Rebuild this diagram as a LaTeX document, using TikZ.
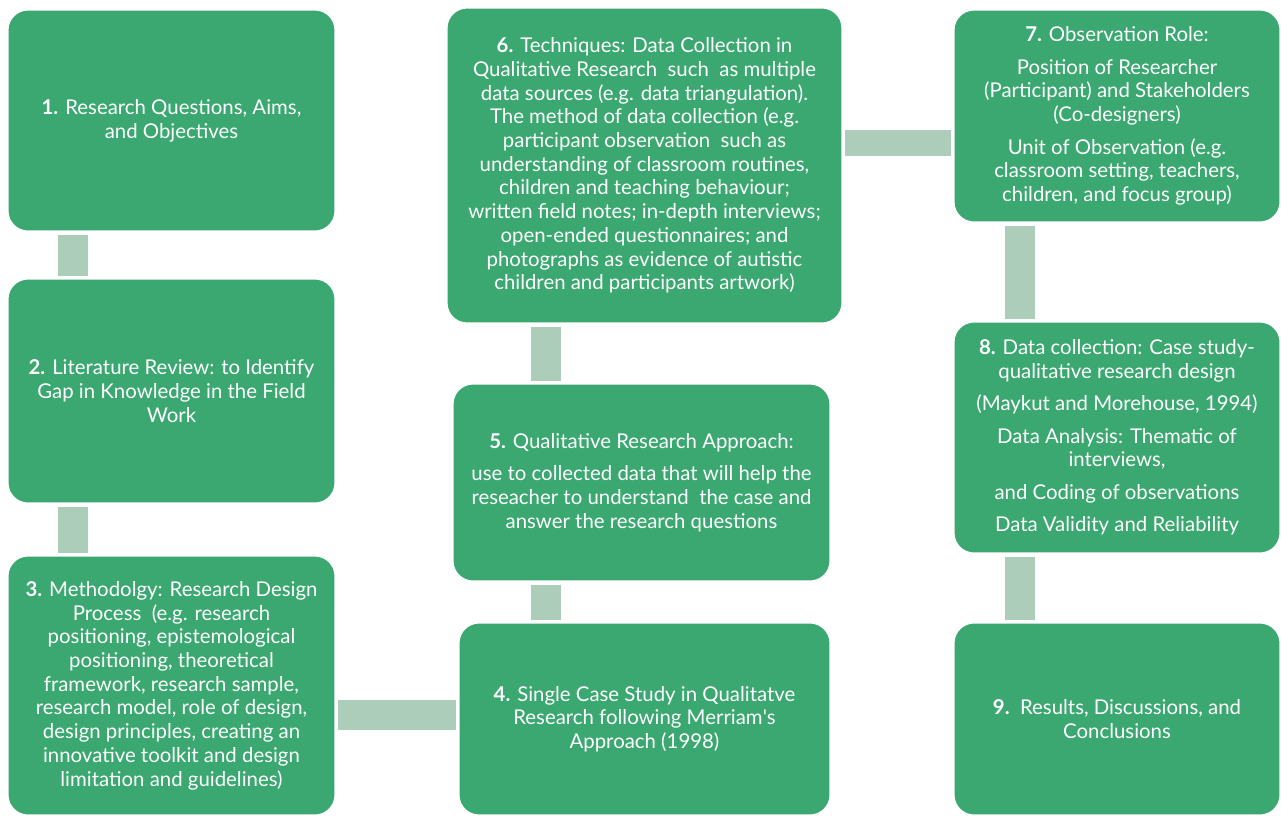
\documentclass[tikz,border=0pt]{standalone}
\usepackage{fontspec}
\setmainfont{Lato}
\usetikzlibrary{calc}
\definecolor{boxgreen}{RGB}{58,168,112}
\definecolor{linkgreen}{RGB}{173,205,187}
\tikzstyle{stage}=[
	 rectangle, rounded corners=0.4cm,
	 fill=boxgreen, draw=white, line width=0.6pt,
	 text=white, align=center, inner sep=0pt,
	 font=\fontsize{11.6}{13.5}\selectfont
    ]
\tikzstyle{link}=[draw=linkgreen, line width=0.6cm, shorten <=0.06cm, shorten >=0.06cm]
\newcommand{\pV}[4][]{\draw[link,#1] ([xshift=#4]#2.south) coordinate (tmp) -- (tmp |- #3.north)}
\newcommand{\pH}[4][]{\draw[link,#1] ([yshift=#4]#2.east) coordinate (tmp) -- (tmp -| #3.west)}

\begin{document}
\begin{tikzpicture}[x=0.02cm,y=-0.02cm]

\fill[white] (0,0) rectangle (1281,816);
\useasboundingbox (0,0) rectangle (1281,816);

\node[stage,minimum width=6.54cm,minimum height=4.42cm] (B1) at (171.5,120.5)
  {\textbf{1.} Research Questions, Aims,\\ and Objectives};
\node[stage,minimum width=6.54cm,minimum height=4.48cm] (B2) at (171.5,391)
  {\textbf{2.} Literature Review: to Identify\\ Gap in Knowledge in the Field\\ Work};
\node[stage,minimum width=6.54cm,minimum height=5.18cm] (B3) at (171.5,685.5)
  {\textbf{3.} Methodolgy: Research Design\\ Process\ \ (e.g. research\\ positioning, epistemological\\ positioning, theoretical\\ framework, research sample,\\ research model, role of design,\\ design principles, creating an\\ innovative toolkit and design\\ limitation and guidelines)};
\node[stage,minimum width=7.42cm,minimum height=3.84cm] (B4) at (644.5,719)
  {\textbf{4.} Single Case Study in Qualitatve\\ Research following Merriam\textquotesingle s\\ Approach (1998)};
\node[stage,minimum width=7.54cm,minimum height=3.94cm] (B5) at (641.5,482.5)
  {\textbf{5.} Qualitative Research Approach:\\[5pt] use to collected data that will help the\\ reseacher to understand\ \ the case and\\ answer the research questions};
\node[stage,minimum width=7.9cm,minimum height=6.3cm] (B6) at (644.5,165.5)
  {\textbf{6.} Techniques: Data Collection in\\ Qualitative Research\ \ such\ \ as multiple\\ data sources (e.g. data triangulation).\\ The method of data collection (e.g.\\ participant observation\ \ such as\\ understanding of classroom routines,\\ children and teaching behaviour;\\ written field notes; in-depth interviews;\\ open-ended questionnaires; and\\ photographs as evidence of autistic\\ children and participants artwork)};
\node[stage,minimum width=6.52cm,minimum height=4.24cm] (B7) at (1117,116)
  {\textbf{7.} Observation Role:\\[5pt] Position of Researcher\\ (Participant) and Stakeholders\\ (Co-designers)\\[5pt] Unit of Observation (e.g.\\ classroom setting, teachers,\\ children, and focus group)};
\node[stage,minimum width=6.52cm,minimum height=4.62cm] (B8) at (1117,437.5)
  {\textbf{8.} Data collection: Case study-\\ qualitative research design\\[5pt] (Maykut and Morehouse, 1994)\\[5pt] Data Analysis: Thematic of\\ interviews,\\[5pt] and Coding of observations\\[5pt] Data Validity and Reliability};
\node[stage,minimum width=6.52cm,minimum height=3.84cm] (B9) at (1117,719)
  {\textbf{9.}\ \ Results, Discussions, and\\ Conclusions};

\pV{B1}{B2}{-1.97cm};
\pV{B2}{B3}{-1.97cm};
\pH{B3}{B4}{-0.59cm};
\pV{B5}{B4}{-1.92cm};
\pV{B6}{B5}{-1.98cm};
\pH[line width=0.52cm]{B6}{B7}{0.46cm};
\pV{B7}{B8}{-1.94cm};
\pV{B8}{B9}{-1.94cm};

\end{tikzpicture}
\end{document}
